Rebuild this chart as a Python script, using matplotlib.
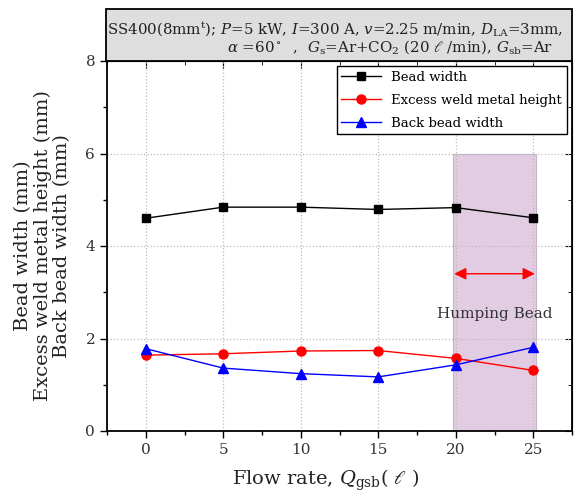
import matplotlib
matplotlib.use("Agg")
import matplotlib.pyplot as plt
from matplotlib.patches import Rectangle
from matplotlib.ticker import MultipleLocator

plt.rcParams['font.family'] = ['DejaVu Serif', 'DejaVu Sans']
plt.rcParams['mathtext.fontset'] = 'dejavuserif'

flow = [0, 5, 10, 15, 20, 25]
bead_width = [4.60, 4.84, 4.84, 4.79, 4.83, 4.61]
excess_height = [1.64, 1.67, 1.73, 1.74, 1.57, 1.31]
back_width = [1.78, 1.36, 1.24, 1.17, 1.43, 1.81]

fig = plt.figure(figsize=(5.79, 4.96), dpi=100)
ax = fig.add_axes([107/579, 1-431/496, (572-107)/579, (431-61)/496])

ax.set_xlim(-2.5, 27.5)
ax.set_ylim(0, 8)

ax.axvspan(19.8, 25.2, ymin=0, ymax=6/8, facecolor='#e2cce2', edgecolor='#c8b4c8', lw=0.8, zorder=0.3)
ax.set_axisbelow(True)
ax.grid(True, which='major', color='#bbbbbb', linestyle=':', lw=0.9)

ax.plot(flow, bead_width, color='black', marker='s', ms=5.5, lw=1.0, label='Bead width')
ax.plot(flow, excess_height, color='red', marker='o', ms=6.5, lw=1.0, label='Excess weld metal height')
ax.plot(flow, back_width, color='blue', marker='^', ms=6.5, lw=1.0, label='Back bead width')

ax.annotate('', xy=(25.1, 3.4), xytext=(19.9, 3.4),
            arrowprops=dict(arrowstyle='<|-|>', color='red', lw=1.0, mutation_scale=18,
                            shrinkA=0, shrinkB=0))
ax.text(22.5, 2.52, 'Humping Bead', ha='center', va='center', fontsize=11, color='#333333')

ax.xaxis.set_major_locator(MultipleLocator(5))
ax.xaxis.set_minor_locator(MultipleLocator(2.5))
ax.yaxis.set_major_locator(MultipleLocator(2))
ax.yaxis.set_minor_locator(MultipleLocator(1))
ax.tick_params(which='major', direction='out', length=5, width=1.0, labelsize=11, labelcolor='#333333')
ax.tick_params(which='minor', direction='out', length=3, width=1.0)
for s in ax.spines.values():
    s.set_linewidth(1.3)

secx = ax.secondary_xaxis('top')
secx.xaxis.set_major_locator(MultipleLocator(5))
secx.xaxis.set_minor_locator(MultipleLocator(2.5))
secx.tick_params(which='major', direction='in', length=5, labeltop=False)
secx.tick_params(which='minor', direction='in', length=3)
secy = ax.secondary_yaxis('right')
secy.yaxis.set_major_locator(MultipleLocator(2))
secy.yaxis.set_minor_locator(MultipleLocator(1))
secy.tick_params(which='major', direction='in', length=5, labelright=False)
secy.tick_params(which='minor', direction='in', length=3)

ax.set_xlabel(r'Flow rate, $Q_{\rm gsb}$( $\ell$ )', fontsize=14, color='#222222', labelpad=8)
ax.xaxis.set_label_coords(0.47, -0.1)
ax.set_ylabel('Bead width (mm)\nExcess weld metal height (mm)\nBack bead width (mm)',
              fontsize=14, color='#222222', linespacing=1.1, labelpad=10)

leg = ax.legend(loc='upper right', fontsize=9.5, frameon=True, fancybox=False,
                edgecolor='black', framealpha=1, borderaxespad=0.4, handlelength=3.0,
                labelspacing=0.75, borderpad=0.35)
leg.get_frame().set_linewidth(1.0)

# title box
fig.patches.append(Rectangle((106/579, 1-61/496), (572-106)/579, (61-9)/496,
                             transform=fig.transFigure, facecolor='#dedede',
                             edgecolor='black', lw=1.3, zorder=5))
fig.text(107/579, 1-29/496,
         r'SS400(8mm$^{\rm t}$); $P$=5 kW, $I$=300 A, $v$=2.25 m/min, $D_{\rm LA}$=3mm,',
         ha='left', va='center', fontsize=10.8, color='#222222', zorder=6)
fig.text(227/579, 1-47/496,
         r'$\alpha$ =60$^\circ$  ,  $G_{\rm s}$=Ar+CO$_2$ (20 $\ell$ /min), $G_{\rm sb}$=Ar',
         ha='left', va='center', fontsize=10.8, color='#222222', zorder=6)

fig.savefig('out.png', dpi=100)
